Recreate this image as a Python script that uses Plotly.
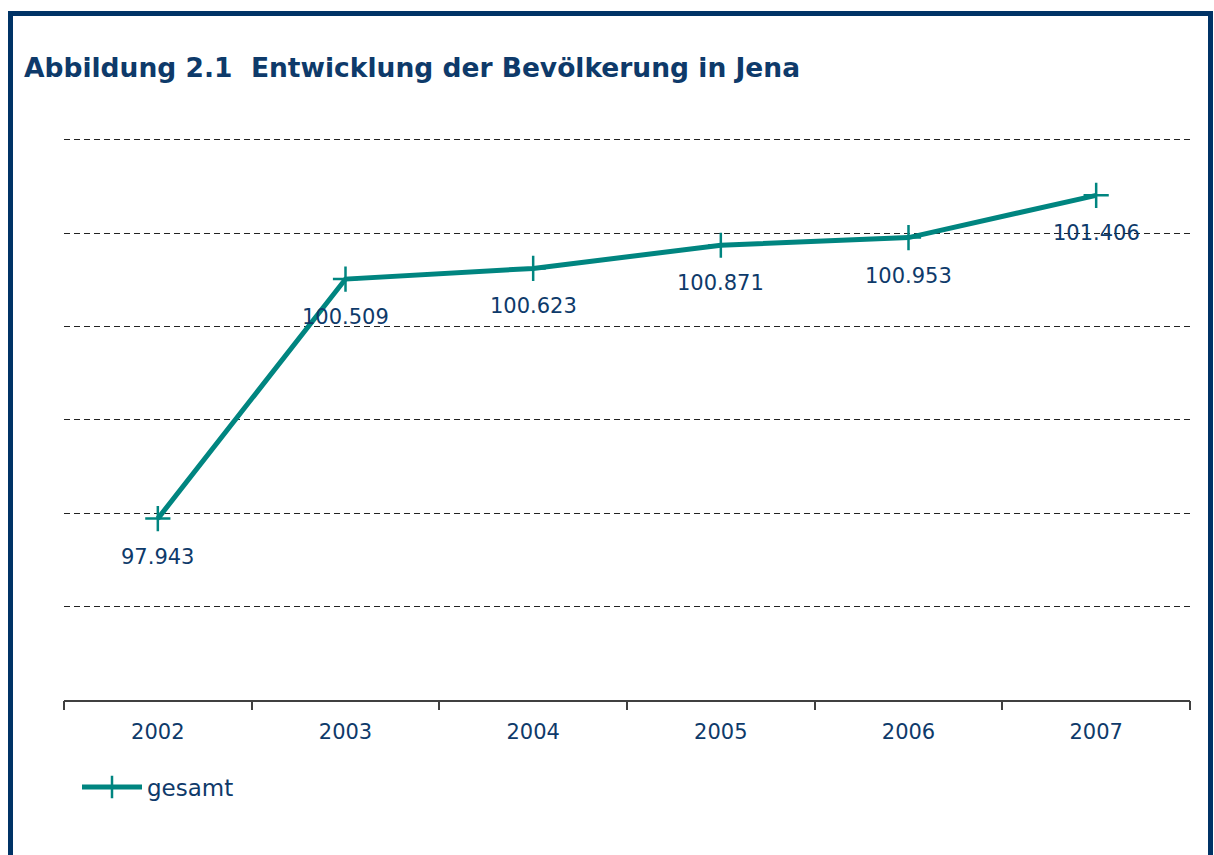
import plotly.graph_objects as go

years = ["2002", "2003", "2004", "2005", "2006", "2007"]
population = [97.943, 100.509, 100.623, 100.871, 100.953, 101.406]
labels = ["97.943", "100.509", "100.623", "100.871", "100.953", "101.406"]
series_name = "gesamt"

NAVY = "#0e3a6a"
TEAL = "#008580"
FONT = "DejaVu Sans"

W, H = 1214, 855
Y0, Y1 = 96, 102.02
L, R, B = 64, 24, 155
unit_px = 560 / 6.0
T = 140 - round((Y1 - 102) * unit_px)
pw, ph = W - L - R, H - T - B

def px_x(x):
    return (x - L) / pw

def px_y(y):
    return (H - B - y) / ph

fig = go.Figure()
fig.add_trace(go.Scatter(
    x=list(range(len(years))), y=population, name=series_name, mode="lines+markers",
    line=dict(color=TEAL, width=5),
    marker=dict(symbol="cross-thin", size=18, line=dict(color=TEAL, width=2.5), color=TEAL),
    showlegend=True,
))

for i, (v, t) in enumerate(zip(population, labels)):
    fig.add_annotation(x=i, y=v, text=t, showarrow=False, yshift=-38,
                       font=dict(family=FONT, size=21, color=NAVY))

fig.add_shape(type="rect", xref="paper", yref="paper",
              x0=px_x(10.5), x1=px_x(1210.5), y0=px_y(13.5), y1=px_y(900),
              line=dict(color="#003366", width=5), fillcolor="rgba(0,0,0,0)", layer="above")

fig.update_layout(
    width=W, height=H,
    margin=dict(l=L, r=R, t=T, b=B),
    paper_bgcolor="white", plot_bgcolor="white",
    font=dict(family=FONT, size=21, color=NAVY),
    title=dict(text="<b>Abbildung 2.1\u00a0\u00a0Entwicklung der Bevölkerung in Jena</b>",
               x=24 / W, xanchor="left", y=1 - 68 / H, yanchor="middle",
               font=dict(family=FONT, size=26.5, color=NAVY)),
    xaxis=dict(range=[-0.5, 5.5], tickmode="array", tickvals=list(range(len(years))),
               ticktext=years, showgrid=False,
               showline=True, linecolor="#404040", linewidth=1.5,
               ticks="", zeroline=False, fixedrange=True,
               tickfont=dict(family=FONT, size=21, color=NAVY), ticklabelstandoff=12),
    xaxis2=dict(range=[-0.5, 5.5], overlaying="x", tickmode="array",
                tickvals=[i - 0.5 for i in range(len(years) + 1)], ticks="outside",
                ticklen=9, tickcolor="#404040", tickwidth=1.5, showticklabels=False,
                showgrid=False, zeroline=False, side="bottom", fixedrange=True),
    yaxis=dict(range=[Y0, Y1], tick0=96, dtick=1, showgrid=True, gridcolor="#222222", gridwidth=1,
               griddash="6px,4px", showticklabels=False, zeroline=False, showline=False,
               ticks="", fixedrange=True),
    legend=dict(x=px_x(77), xanchor="left", y=px_y(787), yanchor="middle",
                orientation="h", itemwidth=60,
                font=dict(family=FONT, size=23, color=NAVY), bgcolor="rgba(0,0,0,0)"),
    showlegend=True,
)
# invisible helper trace so the tick-only axis is drawn
fig.add_trace(go.Scatter(x=[0], y=[Y0], xaxis="x2", mode="markers",
                         marker=dict(opacity=0), showlegend=False, hoverinfo="skip"))

fig.write_html("out.html", config={"displayModeBar": False},
               post_script="document.body.style.margin='0';")
